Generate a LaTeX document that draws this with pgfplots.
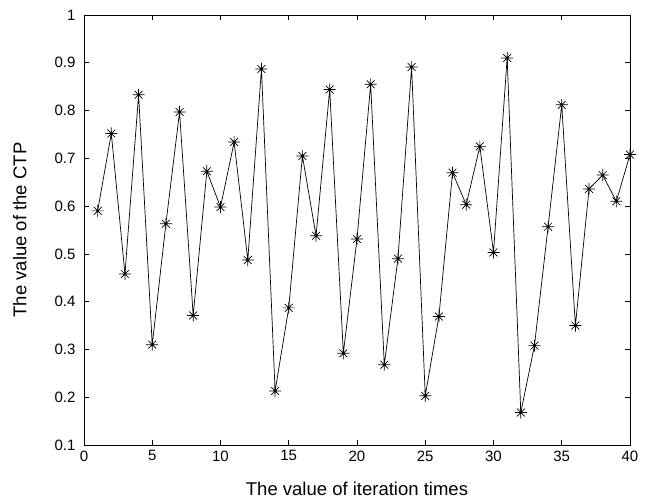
\documentclass[border=0pt]{standalone}
\usepackage{pgfplots}
\pgfplotsset{compat=1.18}
\usepackage{fontspec}
\setmainfont{Liberation Sans}
\pgfdeclareplotmark{mstar}{%
  \pgfpathmoveto{\pgfqpoint{-\pgfplotmarksize}{0pt}}%
  \pgfpathlineto{\pgfqpoint{\pgfplotmarksize}{0pt}}%
  \pgfpathmoveto{\pgfqpoint{0pt}{-\pgfplotmarksize}}%
  \pgfpathlineto{\pgfqpoint{0pt}{\pgfplotmarksize}}%
  \pgfpathmoveto{\pgfqpoint{-0.65\pgfplotmarksize}{-0.65\pgfplotmarksize}}%
  \pgfpathlineto{\pgfqpoint{0.65\pgfplotmarksize}{0.65\pgfplotmarksize}}%
  \pgfpathmoveto{\pgfqpoint{-0.65\pgfplotmarksize}{0.65\pgfplotmarksize}}%
  \pgfpathlineto{\pgfqpoint{0.65\pgfplotmarksize}{-0.65\pgfplotmarksize}}%
  \pgfusepathqstroke
  \pgfpathcircle{\pgfpointorigin}{1.3pt}%
  \pgfusepathqfill
}
\begin{document}
\begin{tikzpicture}
\begin{axis}[
  scale only axis,
  width=546pt, height=430pt,
  xmin=0, xmax=40, ymin=0.1, ymax=1,
  xtick={0,5,...,40},
  ytick={0.1,0.2,0.3,0.4,0.5,0.6,0.7,0.8,0.9,1},
  yticklabels={0.1,0.2,0.3,0.4,0.5,0.6,0.7,0.8,0.9,1},
  tick align=inside,
  major tick length=5pt,
  axis line style={line width=0.8pt},
  every tick/.style={black, line width=0.6pt},
  tick label style={font=\fontsize{15}{17}\selectfont},
  /pgf/number format/assume math mode=true,
  xticklabel style={yshift=-2pt},
  yticklabel style={xshift=-5pt},
  xlabel={The value of iteration times},
  ylabel={The value of the CTP},
  label style={font=\fontsize{18.5}{20}\selectfont},
  xlabel style={at={(rel axis cs:0.5,0)}, anchor=base, yshift=-51pt},
  ylabel style={at={(rel axis cs:0,0.5)}, anchor=south, yshift=54pt},
  clip=false,
]
\addplot[black, line width=0.7pt, mark=mstar, mark size=6pt, mark options={line width=0.7pt}] coordinates {
(1,0.590) (2,0.752) (3,0.458) (4,0.833) (5,0.310) (6,0.563) (7,0.797) (8,0.371)
(9,0.673) (10,0.598) (11,0.734) (12,0.487) (13,0.887) (14,0.213) (15,0.387) (16,0.705)
(17,0.538) (18,0.844) (19,0.292) (20,0.531) (21,0.855) (22,0.268) (23,0.490) (24,0.891)
(25,0.203) (26,0.369) (27,0.670) (28,0.603) (29,0.725) (30,0.503) (31,0.910) (32,0.168)
(33,0.308) (34,0.557) (35,0.812) (36,0.350) (37,0.636) (38,0.665) (39,0.610) (40,0.708)
};
\path (rel axis cs:0,0) ++(-84pt,-57pt) coordinate (bbsw);
\path (rel axis cs:1,1) ++(18pt,15pt) coordinate (bbne);
\end{axis}
\useasboundingbox (bbsw) rectangle (bbne);
\end{tikzpicture}
\end{document}
